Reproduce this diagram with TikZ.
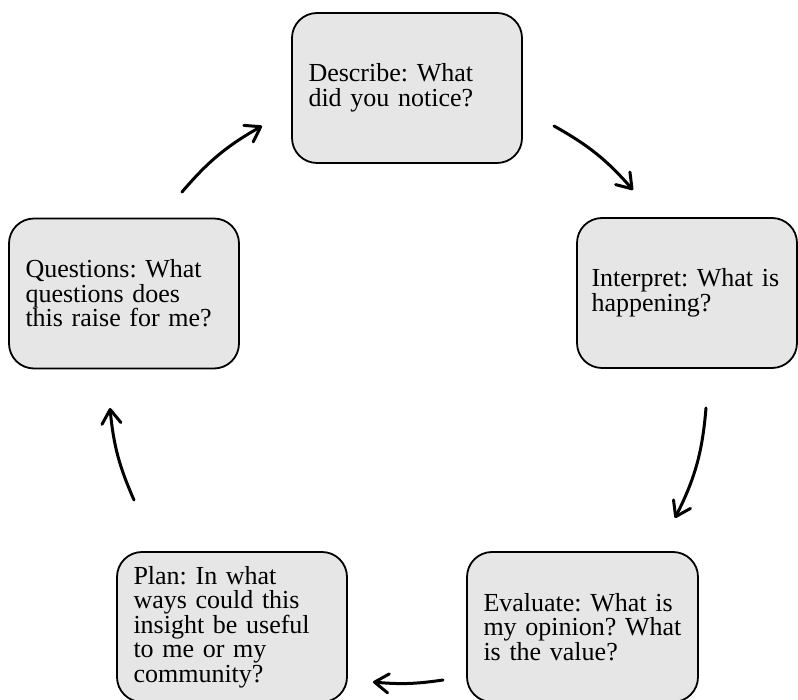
\documentclass[tikz,border=0pt]{standalone}
\usepackage{fontspec}
\setmainfont{Liberation Serif}
\usetikzlibrary{arrows.meta}
\definecolor{boxfill}{RGB}{230,230,230}
\begin{document}
\begin{tikzpicture}[x=1pt,y=1pt,
  box/.style={draw=black, line width=1.8pt, fill=boxfill, rounded corners=25pt,
    inner xsep=16.5pt, inner ysep=0pt, minimum height=150pt, align=left,
    font=\fontsize{26pt}{24.5pt}\selectfont\frenchspacing, anchor=center},
  arr/.style={line width=3pt, line cap=round,
    -{Straight Barb[length=14pt,width=19pt,round]}}]
\useasboundingbox (0,0) rectangle (798,699);
\node[box, text width=197pt] (describe) at (407,611) {Describe: What\\did you notice?};
\node[box, inner xsep=14.5pt, text width=191pt] (interpret) at (687,406) {Interpret: What is\\happening?};
\node[box, text width=198pt] (evaluate) at (582.5,72) {Evaluate: What is\\my opinion? What\\is the value?};
\node[box, text width=197pt] (plan) at (232,72) {Plan: In what\\ways could this\\insight be useful\\to me or my\\community?};
\node[box, text width=197pt] (questions) at (124,405.5) {Questions: What\\questions does\\this raise for me?};
\coordinate (a1s) at (554,573);
\coordinate (a1e) at (633,509);
\coordinate (a2s) at (706,291);
\coordinate (a2e) at (675,181);
\coordinate (a3s) at (443,19);
\coordinate (a3e) at (373,17);
\coordinate (a4s) at (134,199);
\coordinate (a4e) at (110,291);
\coordinate (a5s) at (182,507);
\coordinate (a5e) at (262,573);
\draw[arr] (a1s) to[bend left=9.8] (a1e);
\draw[arr] (a2s) to[bend left=11] (a2e);
\draw[arr] (a3s) to[bend left=6.8] (a3e);
\draw[arr] (a4s) to[bend left=9.2] (a4e);
\draw[arr] (a5s) to[bend left=10] (a5e);
\end{tikzpicture}
\end{document}
